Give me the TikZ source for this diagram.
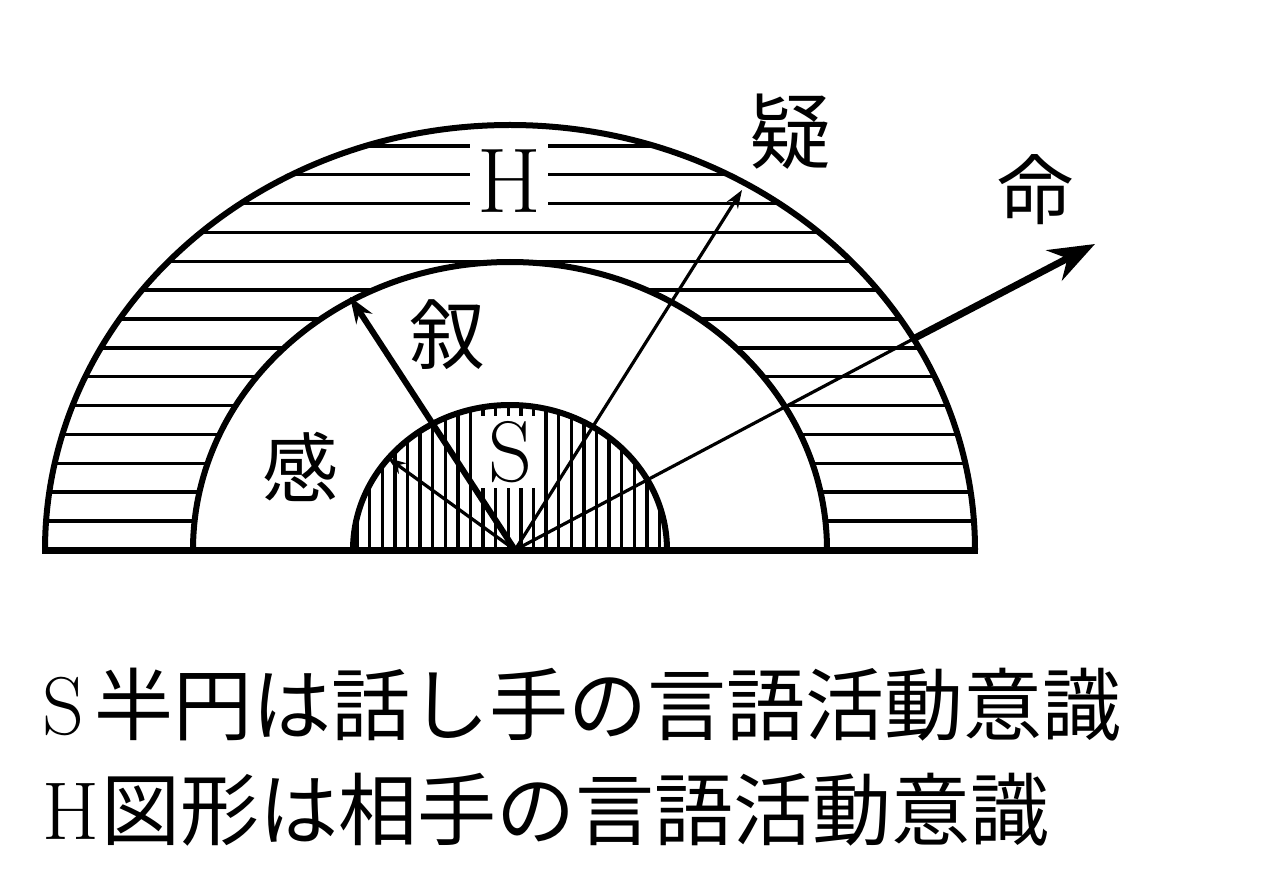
\documentclass[tikz,border=0pt]{standalone}
\usepackage{fontspec}
\newfontfamily\cjk{Noto Sans CJK JP}
\usetikzlibrary{arrows.meta}
\tikzset{
  arcline/.style={line width=6pt},
  hatch/.style={line width=3.4pt},
  thinarrow/.style={line width=3.2pt,-{Stealth[length=18pt,width=13pt]}},
  thickarrow/.style={line width=6pt,-{Stealth[length=26pt,width=19pt]}},
  biglabel/.style={font=\cjk\fontsize{76}{76}\selectfont,inner sep=0pt},
  caption/.style={anchor=west,inner sep=0pt},
}
\begin{document}
\begin{tikzpicture}[x=1pt,y=-1pt]
\useasboundingbox[fill=white] (0,0) rectangle (1284,874);
\coordinate (O) at (515,550);
% H region horizontal hatching
\begin{scope}
  \clip (45,550) arc[start angle=180,end angle=0,x radius=465pt,y radius=425pt] -- cycle;
  \foreach \k in {0,...,13}
    \draw[hatch] (40,{521-28.85*\k}) -- (985,{521-28.85*\k});
\end{scope}
\fill[white] (193,550) arc[start angle=180,end angle=0,x radius=317pt,y radius=288pt] -- cycle;
\node[fill=white,minimum width=78pt,minimum height=76pt,inner sep=0pt] (H) at (509,181)
  {\fontsize{92}{92}\selectfont H};
% S region vertical hatching
\begin{scope}
  \clip (353,550) arc[start angle=180,end angle=0,x radius=157pt,y radius=145pt] -- cycle;
  \foreach \x in {357,369.6,...,665}
    \draw[hatch] (\x,400) -- (\x,552);
\end{scope}
\node[fill=white,minimum width=64pt,minimum height=72pt,inner sep=0pt] (S) at (510,452)
  {\fontsize{86}{86}\selectfont S};
% arcs and base
\draw[arcline] (45,550) arc[start angle=180,end angle=0,x radius=465pt,y radius=425pt];
\draw[arcline] (193,550) arc[start angle=180,end angle=0,x radius=317pt,y radius=288pt];
\draw[arcline] (353,550) arc[start angle=180,end angle=0,x radius=157pt,y radius=145pt];
\draw[line width=7pt] (42,550) -- (978,550);
% arrows
\coordinate (kanT) at (388,458);
\coordinate (joT) at (350,297);
\coordinate (giT) at (742,190);
\coordinate (meP) at (915,338);
\coordinate (meT) at (1095,244);
\draw[thinarrow] (O) -- (kanT);
\draw[thickarrow] (O) -- (joT);
\draw[thinarrow] (O) -- (giT);
\draw[line width=3.2pt] (O) -- (meP);
\draw[line width=7pt,-{Stealth[length=46pt,width=34pt]}] (meP) -- (meT);
% labels
\node[biglabel] (kan) at (300,467) {感};
\node[biglabel] (jo) at (447,335) {叙};
\node[biglabel,font=\cjk\fontsize{82}{82}\selectfont] (gi) at (790,132) {疑};
\node[biglabel] (mei) at (1035,190) {命};
% captions
\node[caption] (cap1) at (42,705) {\fontsize{82}{82}\selectfont S\hspace{10pt}\cjk\fontsize{79}{79}\selectfont 半円は話し手の言語活動意識};
\node[caption] (cap2) at (42,810) {\fontsize{82}{82}\selectfont H\hspace{2pt}\cjk\fontsize{79}{79}\selectfont 図形は相手の言語活動意識};
\end{tikzpicture}
\end{document}
